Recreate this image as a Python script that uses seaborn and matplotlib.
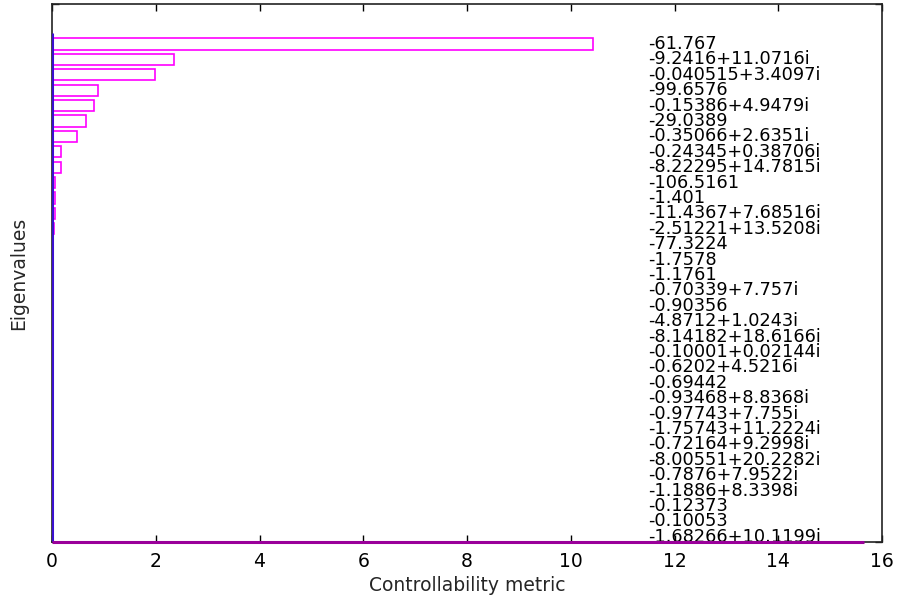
import matplotlib
matplotlib.use("Agg")
import matplotlib.pyplot as plt
import seaborn as sns
import pandas as pd

# Eigenvalues of the system, ordered by their controllability metric
eigenvalues = [
    "-61.767", "-9.2416+11.0716i", "-0.040515+3.4097i", "-99.6576",
    "-0.15386+4.9479i", "-29.0389", "-0.35066+2.6351i", "-0.24345+0.38706i",
    "-8.22295+14.7815i", "-106.5161", "-1.401", "-11.4367+7.68516i",
    "-2.51221+13.5208i", "-77.3224", "-1.7578", "-1.1761",
    "-0.70339+7.757i", "-0.90356", "-4.8712+1.0243i", "-8.14182+18.6166i",
    "-0.10001+0.02144i", "-0.6202+4.5216i", "-0.69442", "-0.93468+8.8368i",
    "-0.97743+7.755i", "-1.75743+11.2224i", "-0.72164+9.2998i",
    "-8.00551+20.2282i", "-0.7876+7.9522i", "-1.1886+8.3398i", "-0.12373",
    "-0.10053", "-1.68266+10.1199i",
]
metric = [
    10.42, 2.355, 1.99, 0.88, 0.81, 0.66, 0.475, 0.18, 0.18, 0.065, 0.065,
    0.065, 0.03, 0.004, 0.003, 0.003, 0.002, 0.002, 0.002, 0.001, 0.001,
    0.001, 0.001, 0.001, 0.0, 0.0, 0.0, 0.0, 0.0, 0.0, 0.0, 0.0, 0.0,
]
x_ticks = [0, 2, 4, 6, 8, 10, 12, 14, 16]

df = pd.DataFrame({"eig": eigenvalues, "metric": metric})

sns.set_style("white")
plt.rcParams["font.family"] = ["DejaVu Sans"]

fig = plt.figure(figsize=(8.97, 6.02), dpi=100)
ax = fig.add_axes([52 / 897, 1 - 542 / 602, (882 - 52) / 897, (542 - 4) / 602])

sns.barplot(data=df, x="metric", y="eig", orient="h", order=eigenvalues,
            color="white", edgecolor="#ff00ff", linewidth=1.2, width=0.72,
            errorbar=None, ax=ax)

# rows are 15.4 px apart, first row 44 px from the top of the figure
y_top = -(44 - 4) / 15.4
y_bot = (542 - 44) / 15.4
ax.set_ylim(y_bot, y_top)
ax.set_xlim(0, 16)

# eigenvalue labels listed down the right side
for i, lab in enumerate(eigenvalues):
    ax.text(11.5, i, lab, fontsize=12.8, va="center", ha="left", color="black")

# bar baseline and bottom trace
ax.vlines(0, -0.7, y_bot, color="#3a10d0", linewidth=2.2, zorder=5)
ax.hlines(y_bot - 0.03, 0, 15.65, color="#9a009a", linewidth=2.2, zorder=6,
          clip_on=False)

ax.set_xticks(x_ticks)
ax.set_xticklabels([str(t) for t in x_ticks], fontsize=13.5)
ax.set_yticks([y_top, y_bot])
ax.set_yticklabels([])
ax.tick_params(axis="x", direction="in", length=5, width=1, top=True,
               bottom=True, pad=7, colors="black")
ax.tick_params(axis="y", direction="in", length=5, width=1, left=True,
               right=True)
ax.set_xlabel("Controllability metric", fontsize=13.5, labelpad=4)
ax.set_ylabel("Eigenvalues", fontsize=13.5, labelpad=14)

for side in ["top", "right", "bottom", "left"]:
    ax.spines[side].set_visible(True)
    ax.spines[side].set_color("#222222")
    ax.spines[side].set_linewidth(1.2)

fig.savefig("out.png", dpi=100, facecolor="white")
